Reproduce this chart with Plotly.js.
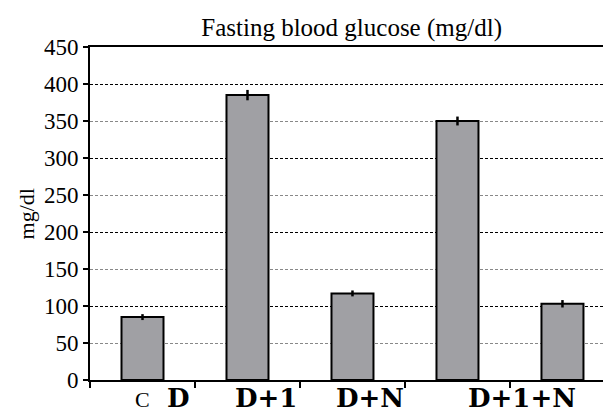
<!DOCTYPE html>
<html>
<head>
<meta charset="utf-8">
<script src="https://cdn.plot.ly/plotly-3.0.1.min.js"></script>
<style>html,body{margin:0;padding:0;background:#fff;}#chart{width:603px;height:412px;}</style>
</head>
<body>
<div id="chart"></div>
<script>
// ---- data ----
const categories = ["C", "D", "D+1", "D+N", "D+1+N"];
const glucose = [85, 385, 117, 350, 103];
const errors = [4, 7, 4, 6, 5];
const yTicks = [0, 50, 100, 150, 200, 250, 300, 350, 400, 450];

// ---- layout constants (label placement as in the reference figure) ----
const labelX = [0, 0.34, 1.18, 2.17, 3.61];
const serif = "Liberation Serif";
const boldSerif = "DejaVu Serif";

const idx = categories.map((_, i) => i);

const traces = [
  {
    type: "bar",
    x: idx,
    y: glucose,
    width: 0.4,
    marker: { color: "#a0a0a4", line: { color: "#000", width: 2 } },
    error_y: { type: "data", array: errors, visible: true, color: "#000", thickness: 2.5, width: 0 },
    hoverinfo: "skip",
    showlegend: false
  },
  { type: "scatter", x: [], y: [], yaxis: "y2", showlegend: false, hoverinfo: "skip" }
];

const bottomY = -32 / 333;
const annotations = categories.map((c, i) => ({
  text: c,
  x: labelX[i],
  xref: "x",
  y: bottomY,
  yref: "paper",
  yanchor: "bottom",
  yshift: i === 0 ? -2 : -3,
  showarrow: false,
  font: i === 0 ? { family: serif, size: 22, color: "#000" } : { family: boldSerif, size: 26, weight: "bold", color: "#000" }
}));
annotations.push({
  text: "mg/dl",
  textangle: -90,
  x: -0.123,
  xref: "paper",
  y: 0.5,
  yref: "paper",
  xanchor: "center",
  yanchor: "middle",
  showarrow: false,
  font: { family: serif, size: 22, color: "#000" }
});

const layout = {
  width: 603,
  height: 412,
  margin: { l: 90, r: 0, t: 47, b: 32, pad: 0 },
  paper_bgcolor: "#fff",
  plot_bgcolor: "#fff",
  font: { family: serif },
  title: {
    text: "Fasting blood glucose (mg/dl)",
    font: { family: serif, size: 25, color: "#000" },
    xref: "paper",
    x: 0.51,
    xanchor: "center",
    yref: "container",
    y: 0.935,
    yanchor: "middle"
  },
  xaxis: {
    type: "linear",
    range: [-0.5, 4.386],
    tickmode: "linear",
    tick0: -0.5,
    dtick: 1,
    ticks: "outside",
    ticklen: 6,
    tickwidth: 2,
    tickcolor: "#000",
    showticklabels: false,
    showgrid: false,
    zeroline: false,
    showline: true,
    linecolor: "#000",
    linewidth: 2,
    mirror: true,
    fixedrange: true
  },
  yaxis: {
    range: [0, 450],
    tickmode: "array",
    tickvals: yTicks,
    ticktext: yTicks.map(String),
    ticks: "outside",
    ticklen: 5,
    tickwidth: 2,
    tickcolor: "#000",
    tickfont: { family: serif, size: 23, color: "#000" },
    showgrid: false,
    zeroline: false,
    showline: true,
    linecolor: "#000",
    linewidth: 2,
    fixedrange: true
  },
  yaxis2: {
    overlaying: "y",
    range: [0, 450],
    tickmode: "linear",
    tick0: 0,
    dtick: 100,
    showticklabels: false,
    ticks: "",
    showline: false,
    zeroline: false,
    showgrid: true,
    gridcolor: "#000",
    gridwidth: 1,
    griddash: "3px,2px",
    minor: { tick0: 50, dtick: 100, showgrid: true, gridcolor: "#888", gridwidth: 1, griddash: "3px,2px" },
    fixedrange: true
  },
  bargap: 0.6,
  annotations: annotations,
  showlegend: false
};

Plotly.newPlot("chart", traces, layout, { staticPlot: true, displayModeBar: false });
</script>
</body>
</html>
